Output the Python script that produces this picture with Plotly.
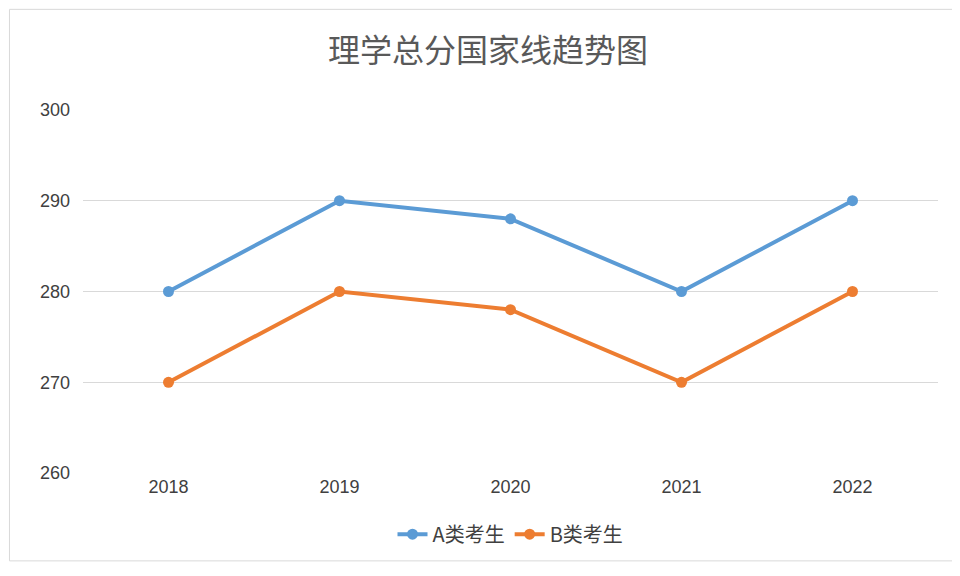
import plotly.graph_objects as go

years = ["2018", "2019", "2020", "2021", "2022"]
a_vals = [280, 290, 288, 280, 290]
b_vals = [270, 280, 278, 270, 280]
b_xshift = [-32, 0, 0, 0, 0]
b_yshift = [0, 33, 33, 35, 33]

fig = go.Figure()
fig.add_trace(go.Scatter(x=years, y=a_vals, name="A类考生", mode="lines+markers",
    line=dict(color="#5B9BD5", width=4), marker=dict(size=11, color="#5B9BD5")))
fig.add_trace(go.Scatter(x=years, y=b_vals, name="B类考生", mode="lines+markers",
    line=dict(color="#ED7D31", width=4), marker=dict(size=11, color="#ED7D31")))

ann = []
for x, v in zip(years, a_vals):
    ann.append(dict(x=x, y=v, text=str(v), showarrow=False, yshift=33,
                    font=dict(size=19, color="#404040", family="Liberation Sans")))
for x, v, xs, ys in zip(years, b_vals, b_xshift, b_yshift):
    ann.append(dict(x=x, y=v, text=str(v), showarrow=False, xshift=xs, yshift=ys,
                    font=dict(size=19, color="#404040", family="Liberation Sans")))

fig.update_layout(
    width=960, height=576, plot_bgcolor="white", paper_bgcolor="white",
    font=dict(family="Liberation Sans", color="#404040"),
    title=dict(text="理学总分国家线趋势图", x=0.5, y=0.925, yref="container",
               xanchor="center", yanchor="middle",
               font=dict(size=32, color="#595959", family="Noto Sans CJK SC")),
    margin=dict(l=75, r=30, t=101, b=110, autoexpand=False),
    annotations=ann,
    xaxis=dict(type="category", range=[-0.5, 4.5], showgrid=False, showline=False,
               tickfont=dict(size=18, color="#404040"), ticks="", automargin=False),
    yaxis=dict(range=[259.9, 300.1], tickvals=[260, 270, 280, 290, 300],
               gridcolor="#D9D9D9", zeroline=False, automargin=False,
               tickfont=dict(size=18, color="#404040"), ticklabelstandoff=12),
    legend=dict(orientation="h", x=0.5, xanchor="center", y=-0.165, yanchor="middle",
                font=dict(size=20, color="#404040", family="Noto Sans CJK SC")),
    shapes=[dict(type="rect", xref="paper", yref="paper", x0=-0.086, x1=1.033,
                 y0=-0.238, y1=1.273, line=dict(color="#D9D9D9", width=1))],
)
fig.write_html("out.html")
